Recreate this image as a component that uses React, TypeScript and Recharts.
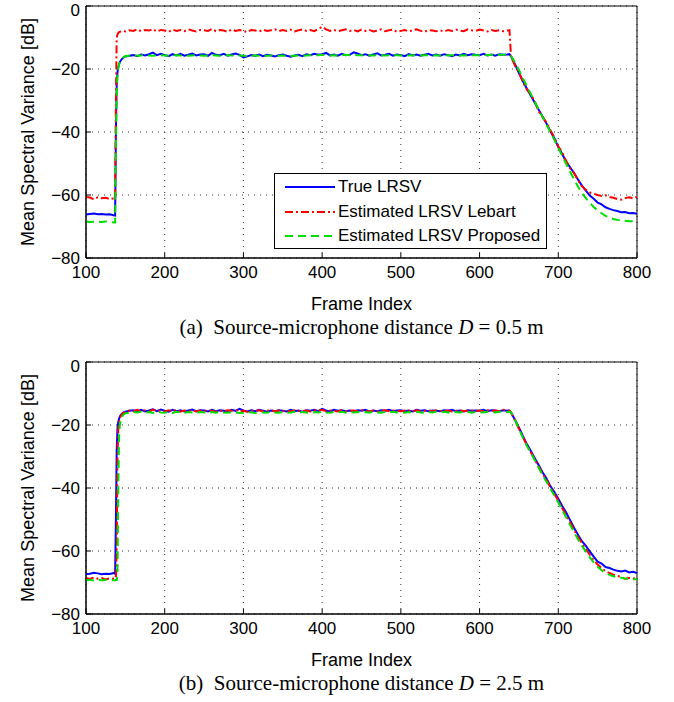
import React from "react";
import {
  LineChart,
  Line,
  XAxis,
  YAxis,
  CartesianGrid,
  ReferenceArea,
  Legend,
} from "recharts";

// frame index (denser around the onset / offset edges)
const frames = [
  100, 105, 110, 115, 120, 125, 130, 135,
  137, 138, 139, 140, 141, 142, 143, 145, 148,
  150, 155, 160, 165, 170, 175, 180, 185, 190, 195,
  200, 205, 210, 215, 220, 225, 230, 235, 240, 245,
  250, 255, 260, 265, 270, 275, 280, 285, 290, 295,
  300, 305, 310, 315, 320, 325, 330, 335, 340, 345,
  350, 355, 360, 365, 370, 375, 380, 385, 390, 395,
  400, 405, 410, 415, 420, 425, 430, 435, 440, 445,
  450, 455, 460, 465, 470, 475, 480, 485, 490, 495,
  500, 505, 510, 515, 520, 525, 530, 535, 540, 545,
  550, 555, 560, 565, 570, 575, 580, 585, 590, 595,
  600, 605, 610, 615, 620, 625, 630, 635, 638,
  640, 645, 650, 655, 660, 665, 670, 675, 680, 685, 690, 695,
  700, 705, 710, 715, 720, 725, 730, 735, 740, 745,
  750, 755, 760, 765, 770, 775, 780, 785, 790, 795,
  800,
];

// (a) D = 0.5 m
const trueA = [
  -66.2, -66.0, -65.9, -66.1, -66.0, -66.2, -66.1, -66.4,
  -66.5, -40, -25, -21, -19.5, -18.5, -17.8, -17, -16.3,
  -16.0, -15.8, -15.6, -15.9, -15.4, -15.7, -15.3, -14.8, -15.6, -15.2,
  -15.6, -15.9, -15.3, -15.7, -15.2, -15.8, -15.5, -15.1, -15.7, -15.4,
  -15.3, -15.8, -14.9, -15.5, -15.6, -15.2, -15.8, -15.4, -15.1, -15.5,
  -16.3, -16.0, -15.6, -15.8, -15.4, -15.9, -15.5, -15.7, -16.0, -15.6,
  -15.4, -15.8, -16.1, -15.7, -15.5, -15.9, -15.3, -15.6, -15.2, -15.5,
  -15.3, -14.9, -15.7, -15.4, -15.8, -15.2, -15.6, -15.5, -14.7, -15.1,
  -15.6, -15.3, -15.8, -15.4, -15.0, -15.7, -15.5, -15.2, -15.8, -15.4,
  -15.6, -15.9, -15.3, -15.7, -15.4, -15.8, -15.5, -15.2, -15.7, -15.4,
  -15.8, -15.3, -15.6, -15.9, -15.4, -15.7, -15.2, -15.6, -15.3, -15.5,
  -15.6, -15.2, -15.7, -15.4, -15.8, -15.3, -15.5, -15.4, -15.3,
  -16.0, -18.5, -21.3, -23.8, -26.2, -28.4, -30.6, -32.9, -35.1, -37.3, -39.8, -42.0,
  -44.8, -47.0, -49.5, -51.2, -53.0, -55.1, -57.0, -58.6, -60.2, -61.2,
  -62.4, -63.0, -63.9, -64.4, -64.8, -65.1, -65.5, -65.4, -65.8, -65.7,
  -66.0,
];
const lebartA = [
  -60.6, -60.8, -61.4, -60.7, -61.0, -60.9, -61.3, -61.1,
  -61.2, -30, -10, -9.0, -8.6, -8.3, -8.2, -8.0, -7.9,
  -8.1, -7.7, -7.9, -7.4, -8.0, -7.6, -7.8, -7.3, -8.1, -7.6,
  -7.8, -8.2, -7.5, -7.9, -7.6, -8.0, -7.4, -7.8, -8.1, -7.6,
  -7.7, -7.9, -7.3, -8.0, -7.6, -7.8, -8.2, -7.5, -7.9, -7.6,
  -7.9, -8.3, -7.6, -7.8, -8.1, -7.5, -7.9, -7.7, -7.4, -8.0,
  -7.6, -7.9, -7.5, -8.1, -7.7, -7.4, -7.9, -7.6, -8.0, -7.3,
  -6.6, -7.4, -7.9, -7.6, -8.0, -7.7, -7.4, -7.9, -7.6, -8.1,
  -7.5, -7.9, -7.6, -8.1, -7.8, -7.4, -8.0, -7.7, -7.5, -8.2,
  -7.9, -7.6, -8.1, -7.7, -7.4, -7.9, -8.2, -7.6, -7.8, -8.0,
  -7.7, -8.1, -7.6, -7.9, -7.5, -7.8, -8.0, -7.4, -7.7, -7.9,
  -7.5, -7.8, -8.1, -7.6, -7.9, -7.7, -8.0, -7.8, -7.7,
  -16.2, -18.9, -21.0, -24.0, -26.5, -28.0, -30.2, -33.4, -35.3, -37.0, -39.4, -41.8,
  -44.5, -46.5, -49.2, -51.6, -53.0, -55.3, -57.2, -58.4, -59.2, -59.6,
  -60.0, -60.3, -60.1, -60.6, -60.9, -61.3, -61.5, -61.0, -60.7, -61.1,
  -60.6,
];
const proposedA = [
  -68.4, -68.6, -68.5, -68.5, -68.6, -68.4, -68.5, -68.7,
  -68.7, -45, -28, -22, -19.8, -18.5, -17.6, -16.8, -16.2,
  -15.9, -15.8, -15.7, -15.8, -15.7, -15.6, -15.7, -15.8, -15.7, -15.6,
  -15.7, -15.8, -15.7, -15.6, -15.7, -15.8, -15.8, -15.7, -15.6, -15.7,
  -15.8, -15.7, -15.6, -15.7, -15.8, -15.7, -15.6, -15.7, -15.8, -15.7,
  -15.8, -15.9, -15.8, -15.7, -15.8, -15.9, -15.8, -15.7, -15.8, -15.8,
  -15.7, -15.8, -15.9, -15.8, -15.7, -15.8, -15.7, -15.6, -15.7, -15.6,
  -15.5, -15.6, -15.7, -15.6, -15.7, -15.6, -15.5, -15.6, -15.5, -15.6,
  -15.6, -15.7, -15.6, -15.7, -15.6, -15.6, -15.7, -15.6, -15.7, -15.6,
  -15.7, -15.6, -15.7, -15.6, -15.7, -15.7, -15.6, -15.6, -15.7, -15.6,
  -15.7, -15.6, -15.7, -15.6, -15.6, -15.7, -15.6, -15.7, -15.6, -15.6,
  -15.6, -15.5, -15.6, -15.5, -15.6, -15.5, -15.5, -15.4, -15.5,
  -15.8, -18.0, -20.3, -22.9, -25.4, -27.9, -30.4, -32.8, -35.2, -37.6, -40.0, -42.5,
  -45.0, -47.6, -50.1, -52.6, -55.0, -57.3, -59.4, -61.0, -62.5, -63.8,
  -64.9, -65.8, -66.6, -67.2, -67.6, -67.9, -68.1, -68.2, -68.3, -68.3,
  -68.4,
];

// (b) D = 2.5 m
const trueB = [
  -67.3, -67.2, -66.9, -67.1, -67.4, -67.2, -67.3, -67.0,
  -67.2, -50, -28, -21, -19.0, -18.0, -17.3, -16.6, -16.0,
  -15.8, -15.5, -15.3, -15.6, -15.2, -15.7, -15.4, -15.0, -15.6, -15.1,
  -15.5, -15.8, -15.2, -15.6, -15.3, -15.7, -15.4, -15.1, -15.6, -15.3,
  -15.4, -15.7, -15.2, -15.6, -15.3, -15.5, -15.8, -15.2, -15.5, -14.9,
  -15.4, -15.7, -15.3, -15.6, -15.2, -15.5, -15.8, -15.4, -15.6, -15.3,
  -15.5, -15.7, -15.2, -15.6, -15.4, -15.8, -15.3, -15.5, -15.2, -15.6,
  -14.9, -15.4, -15.7, -15.2, -15.5, -15.3, -15.6, -15.4, -15.7, -15.3,
  -15.5, -15.2, -15.7, -15.4, -15.6, -15.3, -15.5, -15.2, -15.6, -15.4,
  -15.3, -15.6, -15.4, -15.7, -15.2, -15.5, -15.3, -15.6, -15.4, -15.5,
  -15.6, -15.3, -15.5, -15.2, -15.6, -15.4, -15.7, -15.3, -15.5, -15.4,
  -15.5, -15.2, -15.6, -15.3, -15.4, -15.6, -15.3, -15.5, -15.4,
  -16.1, -18.3, -20.8, -23.5, -26.0, -28.2, -30.5, -32.7, -35.0, -37.0, -39.4, -41.3,
  -43.4, -45.7, -47.8, -50.2, -52.6, -54.8, -56.9, -58.4, -60.1, -61.8,
  -63.4, -64.0, -65.1, -65.4, -65.9, -66.3, -66.5, -66.2, -66.8, -66.6,
  -67.0,
];
const lebartB = [
  -68.6, -68.9, -68.4, -68.8, -68.6, -69.0, -68.7, -68.8,
  -68.8, -68.7, -60, -30, -21, -19.0, -17.8, -16.8, -16.1,
  -15.9, -15.4, -15.6, -15.2, -15.7, -15.3, -15.8, -15.1, -15.5, -15.4,
  -15.7, -15.3, -15.6, -15.2, -15.8, -15.4, -15.5, -15.3, -15.7, -15.4,
  -15.6, -15.3, -15.5, -15.8, -15.4, -15.6, -15.3, -15.5, -15.2, -15.6,
  -15.5, -15.8, -15.4, -15.6, -15.3, -15.7, -15.5, -15.3, -15.6, -15.4,
  -15.6, -15.4, -15.7, -15.3, -15.5, -15.6, -15.4, -15.7, -15.3, -15.5,
  -15.2, -15.6, -15.4, -15.5, -15.7, -15.3, -15.6, -15.5, -15.4, -15.6,
  -15.3, -15.5, -15.7, -15.4, -15.6, -15.5, -15.3, -15.6, -15.4, -15.5,
  -15.6, -15.4, -15.5, -15.7, -15.3, -15.6, -15.5, -15.4, -15.6, -15.3,
  -15.5, -15.6, -15.4, -15.7, -15.5, -15.3, -15.6, -15.5, -15.4, -15.6,
  -15.4, -15.6, -15.3, -15.5, -15.4, -15.6, -15.2, -15.4, -15.5,
  -16.0, -18.6, -21.2, -23.8, -26.4, -28.6, -30.9, -33.2, -35.6, -37.4, -39.8, -41.9,
  -44.0, -46.4, -48.6, -50.9, -53.3, -55.5, -57.5, -59.4, -61.2, -62.9,
  -64.3, -65.4, -66.4, -67.0, -67.5, -67.9, -68.2, -68.9, -68.5, -68.7,
  -68.6,
];
const proposedB = [
  -69.3, -69.1, -69.4, -69.2, -69.3, -69.1, -69.2, -69.3,
  -69.3, -69.2, -69.2, -68, -40, -24, -20, -17.6, -16.6,
  -16.3, -16.1, -15.9, -16.0, -15.8, -16.1, -15.9, -16.2, -15.8, -16.0,
  -16.1, -15.9, -16.2, -15.8, -16.0, -16.1, -15.9, -16.0, -16.2, -15.9,
  -16.0, -16.2, -15.9, -16.1, -15.8, -16.0, -16.1, -15.9, -16.0, -16.2,
  -16.1, -15.9, -16.0, -16.2, -15.9, -16.0, -16.1, -15.8, -16.0, -16.1,
  -15.9, -16.1, -16.0, -15.8, -16.1, -15.9, -16.0, -16.2, -15.9, -16.0,
  -15.8, -16.0, -16.1, -15.9, -16.0, -15.8, -16.1, -15.9, -16.0, -15.9,
  -16.0, -15.9, -16.1, -15.8, -16.0, -16.1, -15.9, -16.0, -15.8, -16.0,
  -15.9, -16.1, -15.9, -16.0, -15.8, -16.0, -16.1, -15.9, -16.0, -15.8,
  -16.0, -15.8, -16.0, -16.1, -15.9, -16.0, -15.8, -15.9, -16.1, -15.9,
  -15.9, -16.0, -15.8, -15.9, -16.0, -15.8, -15.7, -15.9, -15.8,
  -16.0, -18.4, -21.2, -24.0, -26.6, -28.8, -31.1, -33.5, -35.9, -38.0, -40.2, -42.4,
  -44.6, -47.0, -49.3, -51.7, -54.0, -56.3, -58.3, -60.2, -62.0, -63.6,
  -65.0, -66.1, -67.0, -67.6, -68.0, -68.3, -68.5, -68.7, -68.8, -69.0,
  -69.0,
];

const xTicks = [100, 200, 300, 400, 500, 600, 700, 800];
const yTicks = [-80, -60, -40, -20, 0];

const SANS = '"Liberation Sans", Arial, Helvetica, sans-serif';
const SERIF = '"Liberation Serif", "Times New Roman", serif';
const BLUE = "#0000ff";
const RED = "#ff0000";
const GREEN = "#00dd00";
const RED_DASH = "8 3 2 3";
const GREEN_DASH = "8 5";

const tick = { fontSize: 17, fill: "#000", fontFamily: SANS };
const fmtY = (v: number) => (v < 0 ? "\u2212" + Math.abs(v) : String(v));

const legendRows = [
  { name: "True LRSV", color: BLUE, dash: undefined },
  { name: "Estimated LRSV Lebart", color: RED, dash: RED_DASH },
  { name: "Estimated LRSV Proposed", color: GREEN, dash: GREEN_DASH },
];

function LegendBox() {
  return (
    <div
      style={{
        width: 273,
        height: 76,
        boxSizing: "border-box",
        border: "1px solid #000",
        background: "#fff",
        paddingTop: 1,
        fontFamily: SANS,
        fontSize: 17,
        color: "#000",
      }}
    >
      {legendRows.map((r) => (
        <div
          key={r.name}
          style={{ height: 24.5, display: "flex", alignItems: "center" }}
        >
          <svg width={50} height={10} style={{ marginLeft: 10, marginRight: 3 }}>
            <line
              x1={0}
              y1={5}
              x2={50}
              y2={5}
              stroke={r.color}
              strokeWidth={2}
              strokeDasharray={r.dash}
            />
          </svg>
          <span style={{ whiteSpace: "nowrap" }}>{r.name}</span>
        </div>
      ))}
    </div>
  );
}

interface PanelProps {
  tag: string;
  dist: string;
  trueVals: number[];
  lebartVals: number[];
  proposedVals: number[];
  showLegend: boolean;
}

function Panel({ tag, dist, trueVals, lebartVals, proposedVals, showLegend }: PanelProps) {
  const data = frames.map((f, i) => ({
    frame: f,
    trueLrsv: trueVals[i],
    lebart: lebartVals[i],
    proposed: proposedVals[i],
  }));

  return (
    <div style={{ position: "relative", width: 674, height: 356 }}>
      <LineChart
        width={674}
        height={320}
        data={data}
        margin={{ top: 6, right: 37, bottom: 0, left: 0 }}
      >
        <CartesianGrid stroke="#333" strokeDasharray="1 5" />
        <XAxis
          dataKey="frame"
          type="number"
          domain={[100, 800]}
          ticks={xTicks}
          allowDataOverflow
          height={62}
          tick={tick}
          tickSize={-5}
          tickMargin={13}
          tickLine={{ stroke: "#000" }}
          axisLine={{ stroke: "#000" }}
          label={{
            value: "Frame Index",
            position: "insideBottom",
            offset: 10,
            style: { fontSize: 18, fill: "#000", fontFamily: SANS },
          }}
        />
        <YAxis
          type="number"
          domain={[-80, 0]}
          ticks={yTicks}
          allowDataOverflow
          width={86}
          tick={tick}
          tickFormatter={fmtY}
          tickSize={-5}
          tickMargin={11}
          tickLine={{ stroke: "#000" }}
          axisLine={{ stroke: "#000" }}
          label={{
            value: "Mean Spectral Variance [dB]",
            angle: -90,
            position: "insideLeft",
            offset: 28,
            style: { fontSize: 18, fill: "#000", fontFamily: SANS, textAnchor: "middle" },
          }}
        />
        <Line
          type="linear"
          dataKey="trueLrsv"
          name="True LRSV"
          stroke={BLUE}
          strokeWidth={2}
          dot={false}
          isAnimationActive={false}
        />
        <Line
          type="linear"
          dataKey="lebart"
          name="Estimated LRSV Lebart"
          stroke={RED}
          strokeWidth={2}
          strokeDasharray={RED_DASH}
          dot={false}
          isAnimationActive={false}
        />
        <Line
          type="linear"
          dataKey="proposed"
          name="Estimated LRSV Proposed"
          stroke={GREEN}
          strokeWidth={2}
          strokeDasharray={GREEN_DASH}
          dot={false}
          isAnimationActive={false}
        />
        <ReferenceArea
          x1={100}
          x2={800}
          y1={-80}
          y2={0}
          fill="none"
          stroke="#000"
          strokeWidth={1}
        />
        {showLegend && (
          <Legend
            layout="horizontal"
            verticalAlign="middle"
            align="center"
            content={() => <LegendBox />}
            wrapperStyle={{ left: 274, top: 173, width: 273, height: 76 }}
          />
        )}
      </LineChart>
      <div
        style={{
          position: "absolute",
          left: 86,
          top: 314,
          width: 551,
          textAlign: "center",
          fontFamily: SERIF,
          fontSize: 21,
          lineHeight: "26px",
          color: "#000",
          whiteSpace: "pre",
        }}
      >
        {tag}  Source-microphone distance <i>D</i> = {dist} m
      </div>
    </div>
  );
}

export default function App() {
  return (
    <div
      style={{
        position: "absolute",
        left: 0,
        top: 0,
        width: 674,
        height: 702,
        background: "#fff",
      }}
    >
      <Panel
        tag="(a)"
        dist="0.5"
        trueVals={trueA}
        lebartVals={lebartA}
        proposedVals={proposedA}
        showLegend
      />
      <Panel
        tag="(b)"
        dist="2.5"
        trueVals={trueB}
        lebartVals={lebartB}
        proposedVals={proposedB}
        showLegend={false}
      />
    </div>
  );
}
